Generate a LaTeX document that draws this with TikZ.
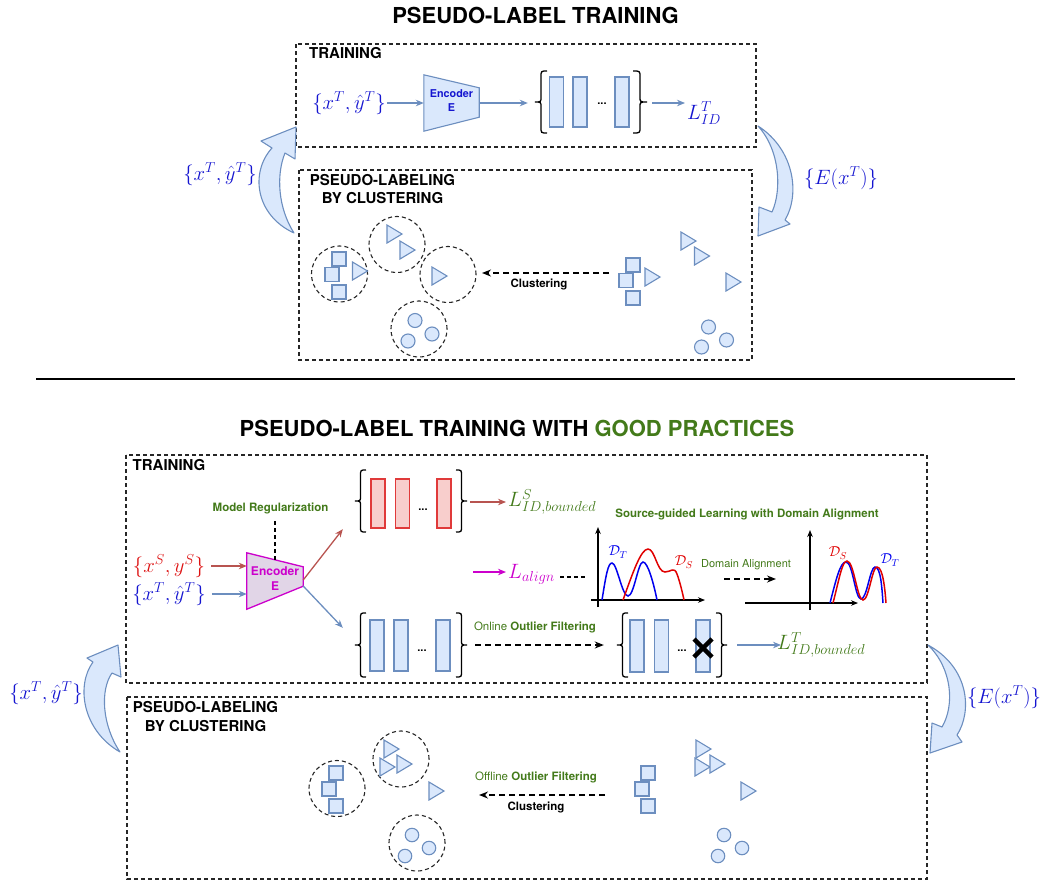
\documentclass[tikz,border=0pt]{standalone}
\usepackage[no-math]{fontspec}
\setmainfont{TeX Gyre Heros}
\usetikzlibrary{arrows.meta,calc}
\definecolor{bfill}{HTML}{DAE8FC}
\definecolor{bline}{HTML}{6C8EBF}
\definecolor{mblue}{HTML}{1515D0}
\definecolor{mred}{HTML}{DD1111}
\definecolor{gtext}{HTML}{437A1A}
\definecolor{mag}{HTML}{CC00CC}
\definecolor{pfill}{HTML}{E1D5E7}
\definecolor{rfill}{HTML}{F8CECC}
\definecolor{rline}{HTML}{E03A3A}
\definecolor{rarr}{HTML}{B85450}
\definecolor{cblue}{HTML}{0000EE}
\definecolor{cred}{HTML}{E00000}
\newcommand{\fs}[2]{\fontsize{#1}{#2}\selectfont}
\tikzset{
 dbox/.style={draw=black!85, line width=1.1pt, dash pattern=on 4pt off 3pt},
 clus/.style={circle, draw=black!85, line width=1.1pt, dash pattern=on 4pt off 3pt, minimum size=56pt, inner sep=0pt},
 sq/.style={draw=bline, fill=bfill, line width=1.1pt, minimum size=14pt, inner sep=0pt},
 dotn/.style={circle, draw=bline, fill=bfill, line width=1.1pt, minimum size=14pt, inner sep=0pt},
 trishape/.style={draw=bline, fill=bfill, line width=1.1pt, line join=miter},
 bar/.style={draw=bline, fill=bfill, line width=1.1pt, minimum width=14pt, minimum height=50pt, inner sep=0pt},
 rbar/.style={bar, draw=rline, fill=rfill},
 brc/.style={draw=black, line width=1.3pt},
 grp/.style={minimum width=112pt, minimum height=62pt, inner sep=0pt},
 sect/.style={font=\bfseries\fs{15}{18.5}, align=center},
 small/.style={font=\fs{11.5}{14}},
 mth/.style={font=\fs{20}{24}, inner sep=1pt},
 arr/.style={line width=1.3pt, -{Stealth[length=8pt,width=6.5pt]}},
 darr/.style={line width=1.5pt, dash pattern=on 6pt off 4pt, -{Stealth[length=9pt,width=7pt]}},
 barrow/.style={draw=bline, fill=bfill, line width=1.1pt, line join=round},
 axis/.style={line width=1.2pt, -{Stealth[length=7pt,width=5.5pt]}},
 crv/.style={line width=1.5pt},
 dl/.style={font=\fs{14}{16}, inner sep=0pt},
}
\newcommand{\trimark}[2]{\draw[trishape] ({#1-7},{#2-9}) -- ({#1+8},{#2}) -- ({#1-7},{#2+9}) -- cycle;}
\newcommand{\crl}[4]{\draw[brc] (#2,#3) .. controls ({(#1+#2)/2},#3) .. ({(#1+#2)/2},{#3+6}) -- ({(#1+#2)/2},{(#3+#4)/2-5}) .. controls ({(#1+#2)/2},{(#3+#4)/2}) .. (#1,{(#3+#4)/2}) .. controls ({(#1+#2)/2},{(#3+#4)/2}) .. ({(#1+#2)/2},{(#3+#4)/2+5}) -- ({(#1+#2)/2},{#4-6}) .. controls ({(#1+#2)/2},#4) .. (#2,#4);}
\begin{document}
\begin{tikzpicture}[x=1pt,y=-1pt]
\useasboundingbox (0,0) rectangle (1043,881);

% ================= TOP =================
\node[font=\bfseries\fs{22}{26}] (t1) at (535.5,15) {PSEUDO-LABEL TRAINING};
\draw[dbox] (296,44) rectangle (756,147);
\node[sect] (lt1) at (345.5,53) {TRAINING};
\node[mth, text=mblue] (in1) at (349,103) {$\{x^T,\hat{y}^T\}$};
\node[minimum width=55pt, minimum height=56pt, inner sep=0pt] (enc1) at (451.5,103) {};
\draw[draw=bline, fill=bfill, line width=1.1pt] (enc1.north west) -- ([yshift=-13pt]enc1.north east) -- ([yshift=14pt]enc1.south east) -- (enc1.south west) -- cycle;
\node[text=mblue, font=\bfseries\fs{10.8}{14}, align=center] at ([yshift=2.5pt]enc1.center) {Encoder\\E};
\draw[arr, bline] (in1.east) -- (in1.east -| enc1.west);
\node[grp, minimum width=124pt] (f1) at (590,103) {};
\node[bar] at (556.5,102) {};
\node[bar] at (580,102) {};
\node[bar] at (622,102) {};
\node[font=\bfseries\fs{11}{13}] at (602,104) {...};
\crl{535}{547}{71}{133}
\crl{647}{633}{71}{133}
\draw[arr, bline] (enc1.east) -- (f1.west);
\node[mth, text=mblue, anchor=west] (L1) at (686,113) {$L^T_{ID}$};
\draw[arr, bline, shorten >=1pt] (f1.east) -- (f1.east -| L1.west);

\draw[dbox] (299,170) rectangle (752,360);
\node[sect] at (382.5,189) {PSEUDO-LABELING\\BY CLUSTERING};
\node[clus] (cA) at (339.5,274) {};
\node[sq] at (339,259) {};
\node[sq] at (332,274.5) {};
\node[sq] at (339,292) {};
\trimark{359.5}{271}
\node[clus] (cB) at (397,244.5) {};
\trimark{394}{234}
\trimark{407}{250}
\node[clus] (cC) at (448,274.5) {};
\trimark{439}{276}
\node[clus] (cD) at (419,329) {};
\node[dotn] at (415,320.5) {};
\node[dotn] at (432,334) {};
\node[dotn] at (408,341) {};
\node[sq] at (633,265) {};
\node[sq] at (626,280.5) {};
\node[sq] at (633,298) {};
\trimark{652}{277}
\trimark{688}{241}
\trimark{701.5}{256}
\trimark{733}{282}
\node[dotn] at (708.5,327) {};
\node[dotn] at (726.5,340) {};
\node[dotn] at (701.5,347) {};
\coordinate (k1) at (609,273);
\coordinate (k1e) at (482,273);
\draw[darr] (k1) -- (k1e);
\node[font=\bfseries\fs{11.5}{14}] at (539,284) {Clustering};

\draw[barrow] (294,233) .. controls (255,215) and (250,172) .. (272,148) -- (261,141) -- (296,127) -- (295,159) -- (285,153) .. controls (276,175) and (278,208) .. (294,233) -- cycle;
\node[mth, text=mblue] at (220,174) {$\{x^T,\hat{y}^T\}$};
\draw[barrow] (758,126) .. controls (795,150) and (800,195) .. (785,220) -- (790,224) -- (758,236) -- (759,207) -- (772,212) .. controls (782,190) and (780,150) .. (758,126) -- cycle;
\node[mth, text=mblue] at (841,178) {$\{E(x^T)\}$};

\draw[line width=2pt] (36,379) -- (1015,379);

% ================= BOTTOM =================
\node[font=\bfseries\fs{22}{26}] (t2) at (517,428) {PSEUDO-LABEL TRAINING WITH \textcolor{gtext}{GOOD PRACTICES}};
\draw[dbox] (126,455) rectangle (927,683);
\node[sect] at (169,465) {TRAINING};
\node[font=\bfseries\fs{11.5}{14}, text=gtext] (mr) at (270.5,508) {Model Regularization};
\node[minimum width=56pt, minimum height=56pt, inner sep=0pt] (enc2) at (275,581) {};
\draw[draw=mag, fill=pfill, line width=1.3pt] (enc2.north west) -- ([yshift=-14pt]enc2.north east) -- ([yshift=23pt]enc2.south east) -- (enc2.south west) -- cycle;
\node[text=mag, font=\bfseries\fs{12}{15}, align=center] at ([yshift=2pt]enc2.center) {Encoder\\E};
\draw[line width=1.3pt, dash pattern=on 4pt off 3pt] (enc2.north |- mr.south) ++(0,4) -- ([yshift=-7pt]enc2.north);

\node[mth, text=mred] (xs) at (169,566) {$\{x^S,y^S\}$};
\node[mth, text=mblue] (xt2) at (169,594) {$\{x^T,\hat{y}^T\}$};
\draw[arr, rarr, shorten <=5pt] (xs.east) -- (xs.east -| enc2.west);
\draw[arr, bline, shorten <=5pt] (xt2.east) -- (xt2.east -| enc2.west);

\node[grp] (f2r) at (411,502) {};
\node[rbar, minimum height=49pt] at (378,503.5) {};
\node[rbar, minimum height=49pt] at (402.5,503.5) {};
\node[rbar, minimum height=49pt] at (444,503.5) {};
\node[font=\bfseries\fs{11}{13}] at (423,510) {...};
\crl{355}{366}{470}{532}
\crl{467}{456}{470}{532}

\node[grp, minimum height=64pt] (f2b) at (411,645) {};
\node[bar, minimum height=51pt] at (377,645.5) {};
\node[bar, minimum height=51pt] at (401,645.5) {};
\node[bar, minimum height=51pt] at (443,645.5) {};
\node[font=\bfseries\fs{11}{13}] at (422,651) {...};
\crl{355}{366}{613}{677}
\crl{467}{456}{613}{677}

\draw[arr, rarr] ([yshift=1pt]enc2.east) -- ([shift={(-12pt,4pt)}]f2r.south west);
\draw[arr, bline] ([yshift=-5pt]enc2.east) -- ([shift={(-12pt,-15pt)}]f2b.north west);

\node[mth, text=gtext, anchor=west] (LS) at (507,502) {$L^S_{ID,bounded}$};
\draw[arr, rarr, shorten <=3pt, shorten >=1pt] (f2r.east) -- (f2r.east -| LS.west);

\node[mth, text=mag, anchor=west] (LA) at (507,574) {$L_{align}$};
\coordinate (ma) at (473,572);
\draw[arr, mag, shorten >=1pt] (ma) -- (ma -| LA.west);
\coordinate (lae) at (587,577);
\draw[line width=1.2pt, dash pattern=on 4pt off 3pt] (LA.east |- lae) ++(4,0) -- (lae);

\node[small, text=gtext] (onl) at (535,627) {Online \textbf{Outlier Filtering}};
\node[grp, minimum width=110pt, minimum height=64pt] (f3) at (672,645) {};
\node[bar, minimum height=52pt] at (637,646) {};
\node[bar, minimum height=52pt] at (661.5,646) {};
\node[bar, minimum height=52pt] at (703,646) {};
\node[font=\bfseries\fs{11}{13}] at (682,651) {...};
\crl{617}{628}{613}{677}
\crl{727}{716}{613}{677}
\draw[line width=4.5pt] (694,639) -- (712,657) (712,639) -- (694,657);
\draw[darr] ([xshift=8pt]f2b.east) -- ([xshift=-13pt]f3.west);
\node[mth, text=gtext, anchor=west] (LT) at (776,645) {$L^T_{ID,bounded}$};
\draw[arr, bline, shorten >=5pt] ([xshift=10pt]f3.east) -- ([xshift=10pt]f3.east -| LT.west);

\node[font=\bfseries\fs{11.5}{14}, text=gtext] at (747,514) {Source-guided Learning with Domain Alignment};
% plot 1
\draw[axis] (598,607) -- (598,527);
\draw[axis] (591,600) -- (705,600);
\draw[crv, cblue] (602,600) .. controls (606,575) and (608,563) .. (612,563) .. controls (617,563) and (622,596) .. (628,596) .. controls (634,596) and (638,562) .. (643,562) .. controls (648,562) and (654,585) .. (657,600);
\draw[crv, cred] (623,600) .. controls (633,572) and (641,549) .. (648,549) .. controls (655,549) and (657,572) .. (665,572) .. controls (671,572) and (674,566) .. (677,574) .. controls (680,582) and (683,595) .. (684,600);
\node[dl, text=cblue] at (618,552) {$\mathcal{D}_T$};
\node[dl, text=cred] at (684,562) {$\mathcal{D}_S$};
\node[font=\fs{11}{13}, text=gtext] at (746,565) {Domain Alignment};
\coordinate (da1) at (724,579);
\coordinate (da2) at (776,579);
\draw[darr] (da1) -- (da2);
% plot 2
\draw[axis] (810,610) -- (810,530);
\draw[axis] (745,603) -- (858,603);
\draw[crv, cblue] (830,603) .. controls (836,580) and (840,562) .. (846,562) .. controls (853,562) and (855,599) .. (861,599) .. controls (867,599) and (870,567) .. (875,567) .. controls (881,567) and (882,590) .. (883,603);
\draw[crv, cred] (833,603) .. controls (839,580) and (842,561) .. (847,561) .. controls (854,561) and (857,600) .. (863,600) .. controls (869,600) and (872,567) .. (877,567) .. controls (883,567) and (885,590) .. (886,603);
\node[dl, text=cred] at (838,553) {$\mathcal{D}_S$};
\node[dl, text=cblue] at (890,560) {$\mathcal{D}_T$};

% pseudo-labeling bottom
\draw[dbox] (127,697) rectangle (927,879);
\node[sect] at (205.5,716.5) {PSEUDO-LABELING\\BY CLUSTERING};
\node[clus] (dA) at (337,788.5) {};
\node[sq] at (336,773) {};
\node[sq] at (329,789) {};
\node[sq] at (336,806) {};
\node[clus] (dB) at (401,759) {};
\trimark{391}{749}
\trimark{387}{767}
\trimark{404}{764}
\trimark{436}{791}
\node[clus] (dD) at (417,843) {};
\node[dotn, minimum size=13.5pt] at (412,835) {};
\node[dotn, minimum size=13.5pt] at (429,848) {};
\node[dotn, minimum size=13.5pt] at (405,856) {};
\node[sq] at (648,773) {};
\node[sq] at (642,789) {};
\node[sq] at (648,806) {};
\trimark{703}{749}
\trimark{702}{767}
\trimark{717}{764}
\trimark{748}{791}
\node[dotn, minimum size=13.5pt] at (724,835) {};
\node[dotn, minimum size=13.5pt] at (742,848) {};
\node[dotn, minimum size=13.5pt] at (718,856) {};
\coordinate (k2) at (605,795);
\coordinate (k2e) at (479,795);
\draw[darr] (k2) -- (k2e);
\node[small, text=gtext] at (536,777) {Offline \textbf{Outlier Filtering}};
\node[font=\bfseries\fs{11.5}{14}] at (536,807) {Clustering};

\draw[barrow] (120,752) .. controls (82,730) and (76,685) .. (93,662) -- (87,658) -- (118,645) -- (121,677) -- (112,673) .. controls (100,690) and (102,725) .. (120,752) -- cycle;
\node[mth, text=mblue] at (46,693) {$\{x^T,\hat{y}^T\}$};
\draw[barrow] (928,645) .. controls (970,668) and (972,712) .. (957,735) -- (962,742) -- (930,753) -- (932,723) -- (942,727) .. controls (955,705) and (952,668) .. (928,645) -- cycle;
\node[mth, text=mblue] at (1004,697) {$\{E(x^T)\}$};
\end{tikzpicture}
\end{document}
